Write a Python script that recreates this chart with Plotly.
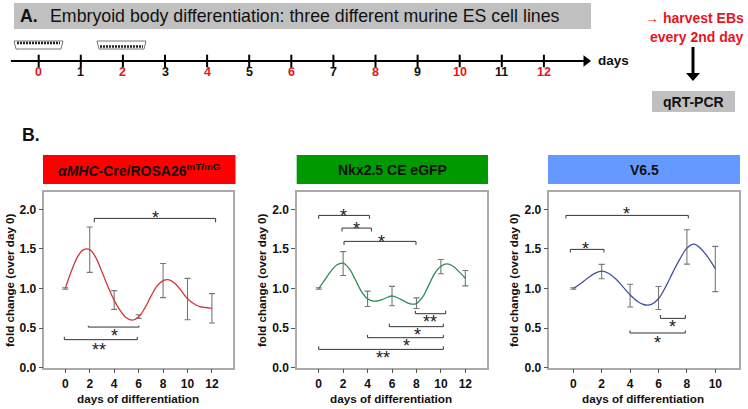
import plotly.graph_objects as go

W, H = 748, 409
FONT = "Liberation Sans"

days_timeline = list(range(13))
timeline_colors = ["#e8141c" if d % 2 == 0 else "#111111" for d in days_timeline]

p1_days = [0, 2, 4, 6, 8, 10, 12]
p1_mean = [1.0, 1.49, 0.855, 0.646, 1.10, 0.867, 0.75]
p1_err = [0.01, 0.286, 0.118, 0.023, 0.215, 0.261, 0.185]
p1_cx = [0, .5, 1, 1.5, 2, 2.5, 3, 3.5, 4, 4.5, 5, 5.5, 6, 6.5, 7, 7.5, 8, 8.5, 9, 9.5, 10, 10.5, 11, 11.5, 12]
p1_cy = [1.0, 1.22, 1.40, 1.49, 1.49, 1.39, 1.21, 1.02, .85, .72, .63, .60, .64, .75, .90, 1.03, 1.10, 1.11, 1.06, .97, .87, .81, .77, .76, .75]
p1_br = [(2.37, 12.3, 1.885, 1.835, "*", 7.36, 1.94), (1.88, 6.03, 0.513, 0.53, "*", 4.0, 0.446), (-0.08, 5.89, 0.354, 0.39, "**", 2.78, 0.278)]

p2_days = [0, 2, 4, 6, 8, 10, 12]
p2_mean = [1.0, 1.315, 0.87, 0.905, 0.815, 1.277, 1.13]
p2_err = [0.01, 0.15, 0.097, 0.122, 0.067, 0.09, 0.097]
p2_cx = [0, .5, 1, 1.5, 2, 2.5, 3, 3.5, 4, 4.5, 5, 5.5, 6, 6.5, 7, 7.5, 8, 8.5, 9, 9.5, 10, 10.5, 11, 11.5, 12]
p2_cy = [1.0, 1.11, 1.22, 1.30, 1.32, 1.25, 1.11, .96, .87, .84, .85, .88, .905, .88, .84, .805, .81, .89, 1.04, 1.19, 1.28, 1.31, 1.28, 1.21, 1.13]
p2_br = [(0, 4.15, 1.923, 1.88, "*", 2.02, 1.97), (1.91, 4.31, 1.763, 1.72, "*", 3.08, 1.806), (2.07, 7.96, 1.595, 1.55, "*", 5.13, 1.637),
         (7.91, 10.39, 0.682, 0.72, "**", 9.11, 0.623), (5.78, 10.2, 0.518, 0.555, "*", 8.05, 0.463), (4.0, 10.2, 0.379, 0.415, "*", 7.17, 0.32),
         (0, 10.2, 0.231, 0.27, "**", 5.24, 0.177)]

p3_days = [0, 2, 4, 6, 8, 10]
p3_mean = [1.0, 1.214, 0.91, 0.88, 1.525, 1.246]
p3_err = [0.01, 0.09, 0.143, 0.145, 0.217, 0.286]
p3_cx = [0, .5, 1, 1.5, 2, 2.5, 3, 3.5, 4, 4.5, 5, 5.5, 6, 6.5, 7, 7.5, 8, 8.5, 9, 9.5, 10]
p3_cy = [1.0, 1.06, 1.13, 1.19, 1.22, 1.19, 1.12, 1.02, .92, .84, .795, .80, .87, 1.02, 1.2, 1.37, 1.51, 1.56, 1.50, 1.39, 1.25]
p3_br = [(-0.52, 8.1, 1.923, 1.885, "*", 3.78, 1.987), (-0.21, 2.16, 1.494, 1.455, "*", 0.87, 1.545), (6.13, 7.89, 0.623, 0.665, "*", 7.0, 0.568),
         (3.99, 7.89, 0.438, 0.47, "*", 5.92, 0.366)]

panels = [
    dict(days=p1_days, mean=p1_mean, err=p1_err, cx=p1_cx, cy=p1_cy, br=p1_br, color="#d0383c",
         frame=(44.3, 233), x0=65.3, ux=12.22, ticks=p1_days, head=(43, 235.5), headc="#ff0000", ytx=9,
         title="<i>αMHC</i>-Cre/ROSA26<sup>mT/mG</sup>"),
    dict(days=p2_days, mean=p2_mean, err=p2_err, cx=p2_cx, cy=p2_cy, br=p2_br, color="#2e8b57",
         frame=(297, 487.3), x0=318.7, ux=12.22, ticks=p2_days, head=(296.7, 488), headc="#009900", ytx=261,
         title="Nkx2.5 CE eGFP"),
    dict(days=p3_days, mean=p3_mean, err=p3_err, cx=p3_cx, cy=p3_cy, br=p3_br, color="#46509c",
         frame=(549.3, 739.3), x0=573.3, ux=14.2, ticks=p3_days, head=(548, 740), headc="#6699ff", ytx=513,
         title="V6.5"),
]

fig = go.Figure()
shapes, annos = [], []


def px(x):
    return x / W


def py(y):
    return 1 - y / H


def rect(x0, y0, x1, y1, color):
    shapes.append(dict(type="rect", xref="paper", yref="paper", x0=px(x0), x1=px(x1), y0=py(y0), y1=py(y1),
                       fillcolor=color, line=dict(color=color, width=0), layer="below"))


def text(x, y, s, size, color="#111111", bold=False, anchor="center", angle=0):
    annos.append(dict(xref="paper", yref="paper", x=px(x), y=py(y), text=f"<b>{s}</b>" if bold else s, showarrow=False,
                      xanchor=anchor, yanchor="middle", textangle=angle, font=dict(family=FONT, size=size, color=color)))


# Panel A
rect(14, 3, 591, 29, "#c0c0c0")
text(18, 16, "A.", 17.7, bold=True, anchor="left")
text(48, 16, "Embryoid body differentiation: three different murine ES cell lines", 17.75, anchor="left")
text(694, 18, "→ harvest EBs", 14, "#e8141c", True)
text(697, 37, "every 2nd day", 14, "#e8141c", True)
rect(652, 91, 735, 112, "#c0c0c0")
text(693.5, 102, "qRT-PCR", 14, bold=True)
text(596, 61, "days", 13.5, bold=True, anchor="left")
text(20, 135, "B.", 17.7, bold=True, anchor="left")
shapes.append(dict(type="line", xref="paper", yref="paper", x0=px(693), x1=px(693), y0=py(47), y1=py(74),
                   line=dict(color="#000000", width=3)))
shapes.append(dict(type="path", xref="paper", yref="paper", fillcolor="#000000", line=dict(color="#000000", width=0),
                   path=f"M {px(686)} {py(73)} L {px(700)} {py(73)} L {px(693)} {py(81)} Z"))

# Dishes
for dx, low in ((14, False), (97, True)):
    y_band = 46.5 if low else 43
    shapes.append(dict(type="path", xref="paper", yref="paper", fillcolor="#ffffff", line=dict(color="#777777", width=1),
                       path=f"M {px(dx)} {py(41)} L {px(dx+49)} {py(41)} L {px(dx+47)} {py(49)} L {px(dx+2)} {py(49)} Z"))
    shapes.append(dict(type="line", xref="paper", yref="paper", x0=px(dx + 3), x1=px(dx + 46), y0=py(y_band), y1=py(y_band),
                       line=dict(color="#222222", width=2.6, dash="2px 1px")))

# Timeline
fig.add_trace(go.Scatter(x=[-0.66, 12.95], y=[0, 0], mode="lines", line=dict(color="#000000", width=2),
                         xaxis="x4", yaxis="y4", showlegend=False, hoverinfo="skip"))
fig.add_trace(go.Scatter(x=days_timeline, y=[0] * 13, mode="markers",
                         marker=dict(symbol="line-ns", size=9, line=dict(color="#000000", width=2)),
                         xaxis="x4", yaxis="y4", showlegend=False, hoverinfo="skip"))
fig.add_trace(go.Scatter(x=[13.0], y=[0], mode="markers", marker=dict(symbol="triangle-right", size=10, color="#000000"),
                         xaxis="x4", yaxis="y4", showlegend=False, hoverinfo="skip"))
for d, c in zip(days_timeline, timeline_colors):
    annos.append(dict(xref="x4", yref="y4", x=d, y=-0.31, text=f"<b>{d}</b>", showarrow=False, yanchor="middle",
                      font=dict(family=FONT, size=12.5, color=c)))

layout = dict(
    xaxis4=dict(domain=[0, 1], range=[-38.7 / 42.1, (W - 38.7) / 42.1], visible=False, fixedrange=True),
    yaxis4=dict(domain=[py(96), py(26)], range=[-1, 1], visible=False, fixedrange=True),
)

TOP, BOT = 191.7, 367.7
UY = 79.2
for i, p in enumerate(panels, start=1):
    xa, ya = f"x{i}", f"y{i}"
    l, r = p["frame"]
    rect(p["head"][0], 155, p["head"][1], 184, p["headc"])
    text(sum(p["head"]) / 2, 169.5, p["title"], 14, bold=True)
    text((l + r) / 2 - 1, 398, "days of differentiation", 11.7, bold=True)
    text(p["ytx"], 281, "fold change (over day 0)", 11.6, bold=True, angle=-90)
    layout[f"xaxis{i}"] = dict(
        domain=[px(l), px(r)], range=[(l - p["x0"]) / p["ux"], (r - p["x0"]) / p["ux"]], tickvals=p["ticks"],
        ticks="outside", ticklen=4, tickwidth=1, tickcolor="#555555", showgrid=False, zeroline=False,
        showline=True, mirror=True, linecolor="#aaaaaa", linewidth=1.5, anchor=f"y{i}", fixedrange=True, automargin=False,
        tickfont=dict(family=FONT, size=12, color="#111111", weight="bold"),
    )
    layout[f"yaxis{i}"] = dict(
        domain=[py(BOT), py(TOP)], range=[0, (BOT - TOP) / UY], tickvals=[0, 0.5, 1, 1.5, 2], ticktext=["0.0", "0.5", "1.0", "1.5", "2.0"],
        ticks="outside", ticklen=4, tickwidth=1, tickcolor="#555555", showgrid=False, zeroline=False,
        showline=True, mirror=True, linecolor="#aaaaaa", linewidth=1.5, anchor=f"x{i}", fixedrange=True, automargin=False,
        tickfont=dict(family=FONT, size=12, color="#111111", weight="bold"),
    )
    fig.add_trace(go.Scatter(x=p["days"], y=p["mean"], mode="markers", marker=dict(size=1, opacity=0),
                             error_y=dict(type="data", array=p["err"], color="#777777", thickness=1.1, width=3),
                             xaxis=xa, yaxis=ya, showlegend=False))
    fig.add_trace(go.Scatter(x=p["cx"], y=p["cy"], mode="lines", line=dict(color=p["color"], width=1.3, shape="spline", smoothing=1),
                             xaxis=xa, yaxis=ya, showlegend=False))
    bx, by = [], []
    for x0, x1, yb, yt, star, sx, sy in p["br"]:
        bx += [x0, x0, x1, x1, None]
        by += [yt, yb, yb, yt, None]
        annos.append(dict(xref=xa, yref=ya, x=sx, y=sy, yshift=-4, text=star, showarrow=False,
                          yanchor="middle", font=dict(family=FONT, size=18, color="#222222")))
    fig.add_trace(go.Scatter(x=bx, y=by, mode="lines", line=dict(color="#333333", width=1), xaxis=xa, yaxis=ya, showlegend=False))

fig.update_layout(width=W, height=H, margin=dict(l=0, r=0, t=0, b=0, autoexpand=False), paper_bgcolor="#ffffff", plot_bgcolor="#ffffff",
                  showlegend=False, shapes=shapes, annotations=annos, **layout)
fig.write_html("out.html", post_script="document.body.style.margin='0';document.body.style.overflow='hidden';",
               config=dict(displayModeBar=False))
